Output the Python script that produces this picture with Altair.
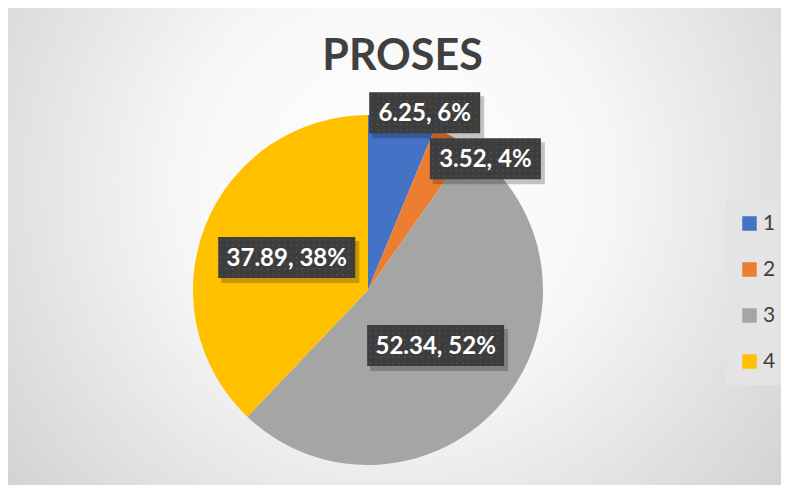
import altair as alt
import pandas as pd

# ---- data ----
categories = ["1", "2", "3", "4"]
values = [6.25, 3.52, 52.34, 37.89]
colors = ["#4472C4", "#ED7D31", "#A5A5A5", "#FFC000"]
title_text = "PROSES"

total = sum(values)
labels = [f"{v:g}, {round(v / total * 100)}%" for v in values]
df = pd.DataFrame({"cat": categories, "value": values, "label": labels})

# ---- layout / style constants ----
W, H = 773, 477
CX, CY, R = 360, 282, 175
SHIFT = 0.1134      # radians, fan-out of small-slice labels
R_OUT, R_STEP = 196, 10
BOX_H = 41
DOT_STEP = 5.8
FONT = "Lato"

bg = alt.Chart(pd.DataFrame({"k": [0]})).mark_rect(
    color={
        "gradient": "radial",
        "x1": 0.5, "y1": 0.42, "r1": 0.0,
        "x2": 0.5, "y2": 0.42, "r2": 0.78,
        "stops": [
            {"offset": 0.0, "color": "#ffffff"},
            {"offset": 0.35, "color": "#f7f7f7"},
            {"offset": 1.0, "color": "#c4c4c4"},
        ],
    }
).encode(x=alt.value(0), x2=alt.value("width"), y=alt.value(0), y2=alt.value("height"))

base = alt.Chart(df)

pie = base.mark_arc(outerRadius=R).encode(
    theta=alt.Theta("value:Q", stack=True),
    color=alt.Color(
        "cat:N",
        scale=alt.Scale(domain=categories, range=colors),
        legend=alt.Legend(
            title=None,
            orient="none",
            legendX=718,
            legendY=192,
            direction="vertical",
            symbolType="square",
            symbolSize=210,
            symbolStrokeWidth=0,
            symbolOpacity=1,
            labelFont=FONT,
            labelFontSize=21,
            labelColor="#404040",
            labelOffset=3,
            rowPadding=24,
            padding=13,
            fillColor="#e4e4e4",
        ),
    ),
    order=alt.Order("cat:N", sort="ascending"),
    x=alt.value(CX),
    y=alt.value(CY),
)

lab = (
    base.transform_joinaggregate(total="sum(value)")
    .transform_window(cum="sum(value)", sort=[alt.SortField("cat")], frame=[None, 0])
    .transform_calculate(small="datum.value / datum.total < 0.1 ? 1 : 0")
    .transform_window(srank="sum(small)", sort=[alt.SortField("cat")], frame=[None, 0])
    .transform_calculate(
        ang=f"(datum.cum - datum.value / 2) / datum.total * 2 * PI + (datum.small ? datum.srank * {SHIFT} : 0)",
        r=f"datum.small ? {R_OUT} - {R_STEP} * datum.srank : {R} * 0.5",
    )
    .transform_calculate(
        lx=f"{CX} + datum.r * sin(datum.ang)",
        ly=f"{CY} - datum.r * cos(datum.ang)",
        bw="length(datum.label) * 13 + 7",
    )
    .transform_calculate(
        bx1="datum.lx - datum.bw / 2",
        bx2="datum.lx + datum.bw / 2",
        by1=f"datum.ly - {BOX_H / 2}",
        by2=f"datum.ly + {BOX_H / 2}",
    )
    .transform_calculate(
        sx1="datum.bx1 + 3", sx2="datum.bx2 + 4",
        sy1="datum.by1 + 4", sy2="datum.by2 + 5",
    )
)

shadow = lab.mark_rect(color="#000000", opacity=0.22).encode(
    x=alt.X("sx1:Q", scale=None, axis=None), x2="sx2:Q",
    y=alt.Y("sy1:Q", scale=None, axis=None), y2="sy2:Q",
)
box = lab.mark_rect(color="#3d3d3d").encode(
    x=alt.X("bx1:Q", scale=None, axis=None), x2="bx2:Q",
    y=alt.Y("by1:Q", scale=None, axis=None), y2="by2:Q",
)
dots = (
    lab.transform_calculate(
        dxs=f"sequence(datum.bx1 + 3, datum.bx2 - 1, {DOT_STEP})",
    )
    .transform_flatten(["dxs"])
    .transform_calculate(
        dys=f"sequence(datum.by1 + 3, datum.by2 - 1, {DOT_STEP})",
    )
    .transform_flatten(["dys"])
    .mark_square(size=3, color="#595959", opacity=0.7, strokeWidth=0)
    .encode(
        x=alt.X("dxs:Q", scale=None, axis=None),
        y=alt.Y("dys:Q", scale=None, axis=None),
    )
)
text = lab.mark_text(
    font=FONT, fontWeight="bold", fontSize=24, color="#ffffff",
    align="center", baseline="middle", dy=1,
).encode(
    x=alt.X("lx:Q", scale=None, axis=None),
    y=alt.Y("ly:Q", scale=None, axis=None),
    text="label:N",
)

title = alt.Chart(pd.DataFrame({"t": [title_text]})).mark_text(
    font=FONT, fontWeight="bold", fontSize=43, color="#404040",
    align="center", baseline="alphabetic",
).encode(x=alt.value(394.5), y=alt.value(62), text="t:N")

chart = alt.layer(bg, pie, shadow, box, dots, text, title).properties(
    width=W, height=H, padding=0, autosize="none"
).configure_view(stroke=None)

chart.save("out.html", embed_options={"renderer": "svg", "actions": False})
